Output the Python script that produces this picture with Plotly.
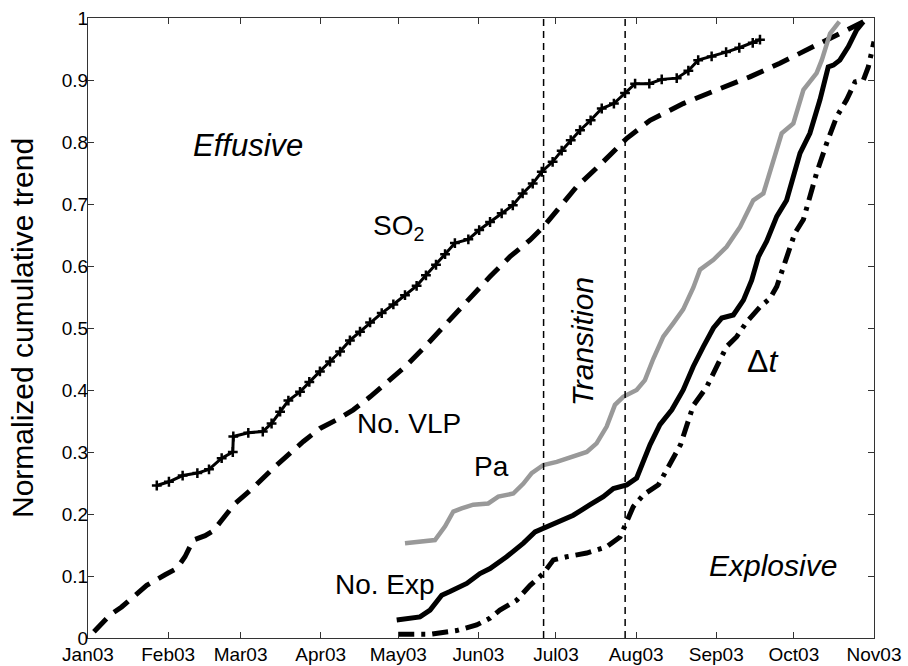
import pandas as pd
import plotly.graph_objects as go

# Day-of-year offsets (days after 2003-01-01) and normalized values
so2_day = [26.6, 31.3, 36.6, 42.3, 46.8, 51.7, 56.0, 56.2, 62.0, 67.6, 71.0, 74.3, 77.5, 82.0,
           85.6, 89.7, 93.6, 97.5, 101.3, 105.2, 109.1, 113.6, 118.1, 122.6, 127.1, 130.7, 134.6,
           138.1, 141.9, 147.1, 151.3, 155.5, 160.0, 164.3, 168.1, 172.0, 175.5, 179.7, 183.2,
           186.7, 190.3, 194.4, 198.7, 203.4, 207.7, 211.6, 217.1, 221.9, 227.7, 232.2, 236.0,
           241.2, 246.8, 251.9, 257.1, 259.9]
so2_val = [0.246, 0.252, 0.262, 0.266, 0.272, 0.290, 0.300, 0.325, 0.331, 0.333, 0.346, 0.365,
           0.383, 0.397, 0.413, 0.430, 0.446, 0.462, 0.480, 0.494, 0.509, 0.524, 0.538, 0.553,
           0.568, 0.585, 0.602, 0.619, 0.637, 0.643, 0.658, 0.671, 0.685, 0.698, 0.717, 0.733,
           0.752, 0.768, 0.786, 0.803, 0.819, 0.835, 0.854, 0.862, 0.879, 0.894, 0.894, 0.901,
           0.903, 0.915, 0.932, 0.938, 0.945, 0.952, 0.960, 0.965]

vlp_day = [2.3, 4.6, 8.5, 13.0, 17.5, 22.7, 29.8, 34.3, 37.5, 40.7, 45.3, 48.5, 51.7, 56.9,
           63.8, 71.7, 83.3, 89.7, 96.2, 102.6, 109.1, 115.5, 123.3, 131.0, 138.7, 143.9, 155.5,
           163.2, 171.0, 176.1, 181.3, 189.0, 198.0, 204.5, 208.4, 217.4, 230.2, 243.2, 256.0,
           267.6, 278.0, 288.3, 299.9]
vlp_val = [0.010, 0.021, 0.037, 0.050, 0.067, 0.085, 0.102, 0.112, 0.131, 0.158, 0.165, 0.173,
           0.190, 0.217, 0.242, 0.274, 0.317, 0.338, 0.352, 0.368, 0.389, 0.411, 0.440, 0.473,
           0.508, 0.529, 0.583, 0.615, 0.642, 0.663, 0.690, 0.728, 0.763, 0.790, 0.806, 0.835,
           0.862, 0.884, 0.905, 0.927, 0.948, 0.970, 0.994]

pa_day = [122.6, 134.2, 138.1, 141.3, 144.5, 149.0, 154.8, 158.7, 164.5, 168.4, 171.6, 176.1,
          181.3, 187.7, 192.9, 196.7, 200.6, 203.8, 207.0, 212.2, 215.4, 218.6, 222.5, 226.4,
          230.2, 234.1, 236.7, 241.9, 247.0, 252.2, 257.3, 261.2, 265.1, 268.3, 272.8, 276.7,
          281.8, 283.8, 287.0, 290.6]
pa_val = [0.153, 0.158, 0.180, 0.204, 0.209, 0.215, 0.217, 0.228, 0.233, 0.249, 0.266, 0.279,
          0.284, 0.292, 0.300, 0.314, 0.341, 0.376, 0.389, 0.400, 0.416, 0.450, 0.486, 0.508,
          0.530, 0.565, 0.594, 0.610, 0.631, 0.663, 0.706, 0.717, 0.771, 0.814, 0.830, 0.884,
          0.911, 0.932, 0.975, 0.994]

exp_day = [119.4, 128.4, 132.3, 136.8, 140.0, 146.5, 151.6, 155.5, 161.9, 168.4, 172.9, 176.1,
           182.6, 187.7, 194.2, 199.3, 203.2, 208.4, 212.2, 214.8, 217.4, 221.2, 225.8, 230.2,
           234.1, 238.0, 241.9, 245.1, 249.6, 253.5, 256.7, 259.3, 262.5, 266.4, 270.2, 275.4,
           279.2, 283.1, 286.3, 288.3, 290.8, 294.1, 297.3, 299.9]
exp_val = [0.029, 0.034, 0.045, 0.069, 0.075, 0.088, 0.104, 0.112, 0.131, 0.153, 0.171, 0.177,
           0.188, 0.198, 0.215, 0.228, 0.241, 0.247, 0.258, 0.287, 0.312, 0.344, 0.368, 0.400,
           0.438, 0.470, 0.500, 0.516, 0.521, 0.545, 0.577, 0.615, 0.640, 0.680, 0.706, 0.782,
           0.814, 0.868, 0.921, 0.924, 0.932, 0.954, 0.981, 0.994]

dt_day = [120.0, 132.3, 142.6, 150.3, 155.5, 159.3, 165.8, 171.0, 176.1, 180.0, 185.1, 192.9,
          200.6, 205.8, 208.4, 210.9, 214.8, 220.6, 223.8, 229.2, 234.1, 239.3, 243.2, 247.0,
          250.9, 254.8, 259.9, 263.8, 266.4, 270.2, 273.4, 276.7, 281.8, 285.7, 289.6, 293.4,
          296.7, 299.9, 301.8, 304.0]
dt_val = [0.006, 0.006, 0.012, 0.021, 0.032, 0.045, 0.061, 0.085, 0.104, 0.126, 0.131, 0.137,
          0.147, 0.163, 0.188, 0.212, 0.231, 0.247, 0.271, 0.312, 0.375, 0.405, 0.438, 0.470,
          0.486, 0.510, 0.534, 0.548, 0.567, 0.615, 0.653, 0.675, 0.750, 0.798, 0.841, 0.868,
          0.897, 0.900, 0.921, 0.962]

transition_bounds = ["2003-06-26T05:00", "2003-07-27T18:00"]
month_ticks = ["2003-%02d-01" % m for m in range(1, 12)]
y_ticks = [i / 10 for i in range(11)]
y_ticktext = ["0", "0.1", "0.2", "0.3", "0.4", "0.5", "0.6", "0.7", "0.8", "0.9", "1"]

BASE = pd.Timestamp("2003-01-01")


def to_dates(days):
    return [BASE + pd.to_timedelta(d, unit="D") for d in days]


FONT = "Liberation Sans, Arial, sans-serif"

fig = go.Figure()

fig.add_trace(go.Scatter(x=to_dates(vlp_day), y=vlp_val, mode="lines",
                         line=dict(color="black", width=5, dash="18px,10px"), name="No. VLP"))
fig.add_trace(go.Scatter(x=to_dates(so2_day), y=so2_val, mode="lines+markers",
                         line=dict(color="black", width=3),
                         marker=dict(symbol="cross-thin", size=7, color="black",
                                     line=dict(color="black", width=2.5)), name="SO2"))
fig.add_trace(go.Scatter(x=to_dates(pa_day), y=pa_val, mode="lines",
                         line=dict(color="#999999", width=4.5), name="Pa"))
fig.add_trace(go.Scatter(x=to_dates(exp_day), y=exp_val, mode="lines",
                         line=dict(color="black", width=5), name="No. Exp"))
fig.add_trace(go.Scatter(x=to_dates(dt_day), y=dt_val, mode="lines",
                         line=dict(color="black", width=5, dash="16px,7px,4px,7px"), name="dt"))

for xb in transition_bounds:
    fig.add_shape(type="line", x0=xb, x1=xb, y0=0, y1=1, xref="x", yref="y",
                  line=dict(color="black", width=1.5, dash="7px,5px"))

annots = [
    dict(x="2003-03-04", y=0.794, text="<i>Effusive</i>", size=31),
    dict(x="2003-05-01", y=0.662, text="SO<sub>2</sub>", size=28),
    dict(x="2003-05-05", y=0.346, text="No. VLP", size=28),
    dict(x="2003-06-06", y=0.277, text="Pa", size=28),
    dict(x="2003-04-26", y=0.087, text="No. Exp", size=28),
    dict(x="2003-09-23", y=0.117, text="<i>Explosive</i>", size=30),
    dict(x="2003-09-19", y=0.447, text="Δ<i>t</i>", size=32),
]
for a in annots:
    fig.add_annotation(x=a["x"], y=a["y"], text=a["text"], showarrow=False,
                       font=dict(family=FONT, size=a["size"], color="black"),
                       xanchor="center", yanchor="middle")
fig.add_annotation(x="2003-07-11T08:00", y=0.478, text="<i>Transition</i>", showarrow=False,
                   textangle=-90, font=dict(family=FONT, size=30, color="black"),
                   xanchor="center", yanchor="middle")
fig.add_annotation(x=-66 / 786, y=0.5, xref="paper", yref="paper",
                   text="Normalized cumulative trend", showarrow=False, textangle=-90,
                   font=dict(family=FONT, size=30, color="black"),
                   xanchor="center", yanchor="middle")

axis_common = dict(showline=True, linecolor="#333333", linewidth=1, mirror="ticks",
                   ticks="inside", ticklen=6, tickcolor="#333333", showgrid=False,
                   zeroline=False, automargin=False,
                   tickfont=dict(family=FONT, size=19, color="black"))

fig.update_xaxes(type="date", range=["2003-01-01", "2003-11-01"], tickvals=month_ticks,
                 tickformat="%b%y", ticklabelstandoff=-1, **axis_common)
fig.update_yaxes(range=[0, 1], tickvals=y_ticks, ticktext=y_ticktext,
                 ticklabelstandoff=-5, **axis_common)

fig.update_layout(width=908, height=666, showlegend=False,
                  margin=dict(l=88, r=34, t=18, b=28),
                  plot_bgcolor="white", paper_bgcolor="white")

fig.write_html("out.html", config={"displayModeBar": False},
               post_script="document.body.style.margin='0';document.body.style.overflow='hidden';")
